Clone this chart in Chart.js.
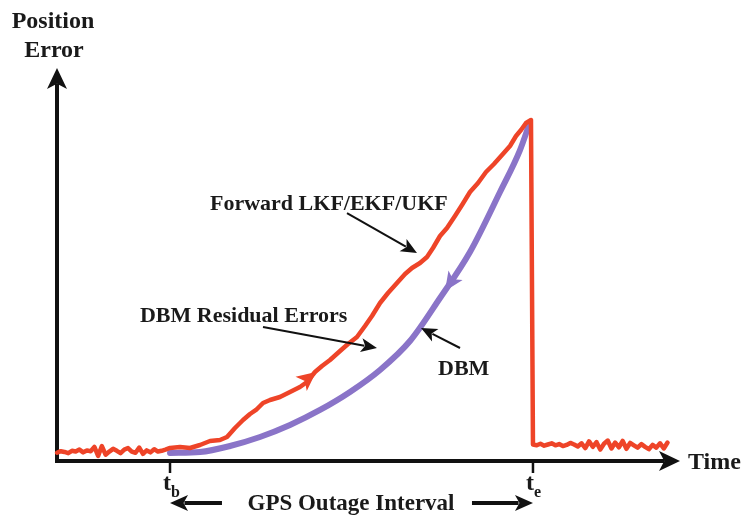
<!DOCTYPE html>
<html>
<head>
<meta charset="utf-8">
<script src="https://cdn.jsdelivr.net/npm/chart.js@4"></script>
<style>
html,body{margin:0;padding:0;background:#fff;}
canvas{display:block;}
</style>
</head>
<body>
<canvas id="c" width="742" height="515"></canvas>
<script>
// ---- Data (x: time units 0..100, y: error units 0..100) ----
const redX = [0,0.6,1.2,1.8,2.4,3.0,3.6,4.2,4.8,5.4,6.0,6.6,7.2,7.8,8.4,9.0,9.6,10.2,10.8,11.4,12.0,12.6,13.2,13.8,14.4,15.0,15.6,16.2,16.8,17.4,
  18.14,19.74,21.35,22.95,24.56,26.16,27.29,28.57,29.86,30.98,31.94,33.07,34.19,35.79,37.40,39.00,40.13,41.41,42.54,43.82,45.43,46.71,48.15,49.44,50.56,51.85,53.13,54.57,55.87,56.98,58.27,59.39,60.35,61.48,62.60,63.88,65.01,66.29,67.58,68.86,70.14,71.43,72.71,73.68,74.48,75.28,76.08,
  76.4,77.0,77.6,78.2,78.8,79.4,80.0,80.6,81.2,81.8,82.4,83.0,83.6,84.2,84.8,85.4,86.0,86.6,87.2,87.8,88.4,89.0,89.6,90.2,90.8,91.4,92.0,92.6,93.2,93.8,94.4,95.0,95.6,96.2,96.8,97.4,98.0];
const redY = [2.1,2.5,2.3,2.0,2.6,2.4,2.9,2.2,2.7,2.5,3.6,1.3,3.8,1.6,2.4,3.1,2.6,2.0,2.9,3.3,2.4,2.1,3.4,1.8,2.7,2.2,3.0,2.4,2.6,2.9,
  3.31,3.56,3.31,4.07,5.09,5.34,6.11,8.40,10.43,11.96,12.98,14.76,15.52,16.28,17.56,18.83,20.10,22.65,24.17,25.70,27.99,29.77,31.55,34.35,36.90,40.20,42.75,45.29,47.58,49.11,50.38,51.91,54.20,57.25,59.29,62.34,65.14,68.45,70.74,73.54,75.57,77.86,80.15,82.70,84.22,86.01,86.77,
  4.2,4.0,4.4,3.9,4.2,4.5,4.0,4.3,3.8,4.1,4.6,4.2,3.7,4.5,3.3,5.0,3.6,4.8,2.9,4.4,5.2,3.2,4.7,3.5,5.1,3.1,4.6,4.0,3.4,4.3,3.6,3.0,4.1,3.4,4.5,3.2,4.7];
const dbmX = [18.14,22.95,27.77,32.58,37.40,42.22,47.03,51.85,56.66,61.48,66.29,71.11,74.32,75.92];
const dbmY = [2.04,2.29,3.82,6.11,9.16,12.98,17.56,23.16,30.53,41.48,53.18,68.45,79.13,86.26];
const tB = 18.14, tE = 76.4;

const RED = '#EE4428', PURPLE = '#8A74C8';
const SERIF = '"Liberation Serif", "Times New Roman", serif';

function arrowHead(ctx, tx, ty, dx, dy, len, half, color){
  const l = Math.hypot(dx, dy); dx/=l; dy/=l;
  const bx = tx - dx*len, by = ty - dy*len;
  ctx.fillStyle = color;
  ctx.beginPath();
  ctx.moveTo(tx, ty);
  ctx.lineTo(bx - dy*half, by + dx*half);
  ctx.lineTo(bx + dx*len*0.25, by + dy*len*0.25);
  ctx.lineTo(bx + dy*half, by - dx*half);
  ctx.closePath(); ctx.fill();
}
function arrowLine(ctx, x1, y1, x2, y2, w, len, half){
  const dx = x2-x1, dy = y2-y1, l = Math.hypot(dx,dy);
  ctx.strokeStyle = '#111'; ctx.lineWidth = w;
  ctx.beginPath(); ctx.moveTo(x1,y1);
  ctx.lineTo(x2 - dx/l*len*0.8, y2 - dy/l*len*0.8); ctx.stroke();
  arrowHead(ctx, x2, y2, dx, dy, len, half, '#111');
}

const decor = {
  id: 'decor',
  beforeDatasetsDraw(chart){
    const ctx = chart.ctx, xs = chart.scales.x, ys = chart.scales.y;
    const X = v => xs.getPixelForValue(v), Y = v => ys.getPixelForValue(v);
    ctx.save();
    ctx.strokeStyle = '#111'; ctx.lineWidth = 4; ctx.lineCap = 'butt';
    ctx.beginPath(); ctx.moveTo(X(0), Y(0)+2); ctx.lineTo(X(0), Y(100)+16); ctx.stroke();
    arrowHead(ctx, X(0), Y(100), 0, -1, 21, 10, '#111');
    ctx.beginPath(); ctx.moveTo(X(0)-2, Y(0)); ctx.lineTo(X(100)-16, Y(0)); ctx.stroke();
    arrowHead(ctx, X(100), Y(0), 1, 0, 21, 10, '#111');
    ctx.lineWidth = 2.5;
    [tB, tE].forEach(t => { ctx.beginPath(); ctx.moveTo(X(t), Y(0)); ctx.lineTo(X(t), Y(0)+12); ctx.stroke(); });
    ctx.restore();
  },
  afterDatasetsDraw(chart){
    const ctx = chart.ctx, xs = chart.scales.x, ys = chart.scales.y;
    const X = v => xs.getPixelForValue(v), Y = v => ys.getPixelForValue(v);
    ctx.save();
    // direction arrowheads on the curves
    arrowHead(ctx, X(41.57), Y(22.65), 1, -0.8, 19, 9, RED);
    arrowHead(ctx, X(62.28), Y(43.26), -30, 45, 19, 8.5, PURPLE);
    // text
    ctx.fillStyle = '#1a1a1a'; ctx.textBaseline = 'alphabetic';
    ctx.font = 'bold 24px ' + SERIF; ctx.textAlign = 'center';
    ctx.fillText('Position', X(-0.64), Y(110.2));
    ctx.fillText('Error', X(-0.48), Y(102.8));
    ctx.textAlign = 'left';
    ctx.fillText('Time', X(101.28), Y(-2.04));
    ctx.font = 'bold 22px ' + SERIF;
    ctx.fillText('Forward LKF/EKF/UKF', X(24.56), Y(63.87));
    ctx.fillText('DBM Residual Errors', X(13.32), Y(35.37));
    ctx.fillText('DBM', X(61.16), Y(21.88));
    [[tB, 'b'], [tE, 'e']].forEach(([t, s]) => {
      ctx.font = 'bold 24px ' + SERIF; ctx.textAlign = 'left';
      const x0 = X(t) - 7;
      ctx.fillText('t', x0, Y(-7.38));
      const w = ctx.measureText('t').width;
      ctx.font = 'bold 16px ' + SERIF;
      ctx.fillText(s, x0 + w, Y(-7.38) + 7);
    });
    ctx.font = 'bold 23px ' + SERIF; ctx.textAlign = 'center';
    ctx.fillText('GPS Outage Interval', X(47.19), Y(-12.47));
    // annotation arrows
    arrowLine(ctx, X(46.55), Y(63.10), X(57.78), Y(52.93), 2, 16, 7);
    arrowLine(ctx, X(33.07), Y(34.10), X(51.36), Y(28.75), 2, 16, 7);
    arrowLine(ctx, X(64.69), Y(28.75), X(58.43), Y(33.84), 2, 16, 7);
    arrowLine(ctx, X(26.48), Y(-10.69), X(18.14), Y(-10.69), 4, 18, 8);
    arrowLine(ctx, X(66.61), Y(-10.69), X(76.40), Y(-10.69), 4, 18, 8);
    ctx.restore();
  }
};

new Chart(document.getElementById('c'), {
  type: 'line',
  data: {
    datasets: [
      { label: 'Forward LKF/EKF/UKF', data: redX.map((x,i)=>({x, y: redY[i]})),
        borderColor: RED, borderWidth: 4.5, pointRadius: 0, tension: 0, borderJoinStyle: 'round', borderCapStyle: 'round', clip: false },
      { label: 'DBM', data: dbmX.map((x,i)=>({x, y: dbmY[i]})),
        borderColor: PURPLE, borderWidth: 6, pointRadius: 0, cubicInterpolationMode: 'monotone', borderCapStyle: 'round', clip: false }
    ]
  },
  options: {
    responsive: false, animation: false, devicePixelRatio: 1,
    layout: { padding: { left: 57, right: 62, top: 68, bottom: 54 } },
    plugins: { legend: { display: false }, tooltip: { enabled: false } },
    scales: {
      x: { type: 'linear', min: 0, max: 100, display: false },
      y: { type: 'linear', min: 0, max: 100, display: false }
    }
  },
  plugins: [decor]
});
</script>
</body>
</html>
